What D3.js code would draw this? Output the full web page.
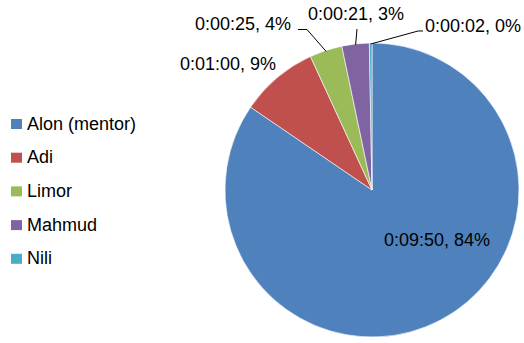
<!DOCTYPE html>
<html>
<head>
<meta charset="utf-8">
<script src="https://cdn.jsdelivr.net/npm/d3@7"></script>
<style>
  body { margin: 0; background: #fff; }
  svg text { font-family: "Liberation Sans", Arial, sans-serif; fill: #000; }
</style>
</head>
<body>
<div id="chart"></div>
<script>
const names = ["Alon (mentor)", "Adi", "Limor", "Mahmud", "Nili"];
const seconds = [590, 60, 25, 21, 2];
const timeLabels = ["0:09:50", "0:01:00", "0:00:25", "0:00:21", "0:00:02"];
const percents = ["84%", "9%", "4%", "3%", "0%"];
const colors = ["#4f81bd", "#c0504d", "#9bbb59", "#8064a2", "#4bacc6"];

const width = 524, height = 343;
const cx = 372, cy = 190, radius = 147;

const svg = d3.select("#chart").append("svg")
    .attr("width", width)
    .attr("height", height);

const data = names.map((n, i) => ({
    name: n, value: seconds[i], label: `${timeLabels[i]}, ${percents[i]}`, color: colors[i]
}));

const pie = d3.pie().sort(null).value(d => d.value);
const arc = d3.arc().innerRadius(0).outerRadius(radius);
const arcs = pie(data);

const g = svg.append("g").attr("transform", `translate(${cx},${cy})`);

g.selectAll("path.slice")
    .data(arcs)
    .enter()
    .append("path")
    .attr("class", "slice")
    .attr("d", arc)
    .attr("fill", d => d.data.color)
    .attr("stroke", "#fff")
    .attr("stroke-width", 0.6);

// label spots relative to the pie centre, plus leader line bends
const labelPos = [
    { x: 12, y: 56, line: null },
    { x: -192, y: -120, line: null },
    { x: -177, y: -160, line: [[-65, -160.5], [-74, -160.5]] },
    { x: -64, y: -170, line: [[-15, -161]] },
    { x: 53, y: -158, line: [[46, -159], [51, -159]] }
];

arcs.forEach((d, i) => {
    const p = labelPos[i];
    if (p.line) {
        const mid = (d.startAngle + d.endAngle) / 2;
        const edge = [Math.sin(mid) * (radius - 1), -Math.cos(mid) * (radius - 1)];
        g.append("path")
            .attr("d", d3.line()([edge].concat(p.line)))
            .attr("fill", "none")
            .attr("stroke", "#000")
            .attr("stroke-width", 1);
    }
    g.append("text")
        .attr("x", p.x)
        .attr("y", p.y)
        .attr("font-size", 18)
        .text(d.data.label);
});

// legend
const legend = svg.append("g").attr("transform", "translate(11,124)");
const row = legend.selectAll("g")
    .data(data)
    .enter()
    .append("g")
    .attr("transform", (d, i) => `translate(0,${i * 33.7})`);

row.append("rect")
    .attr("x", 0)
    .attr("y", -5)
    .attr("width", 11)
    .attr("height", 10)
    .attr("fill", d => d.color);

row.append("text")
    .attr("x", 16)
    .attr("y", 5.5)
    .attr("font-size", 18)
    .text(d => d.name);
</script>
</body>
</html>
